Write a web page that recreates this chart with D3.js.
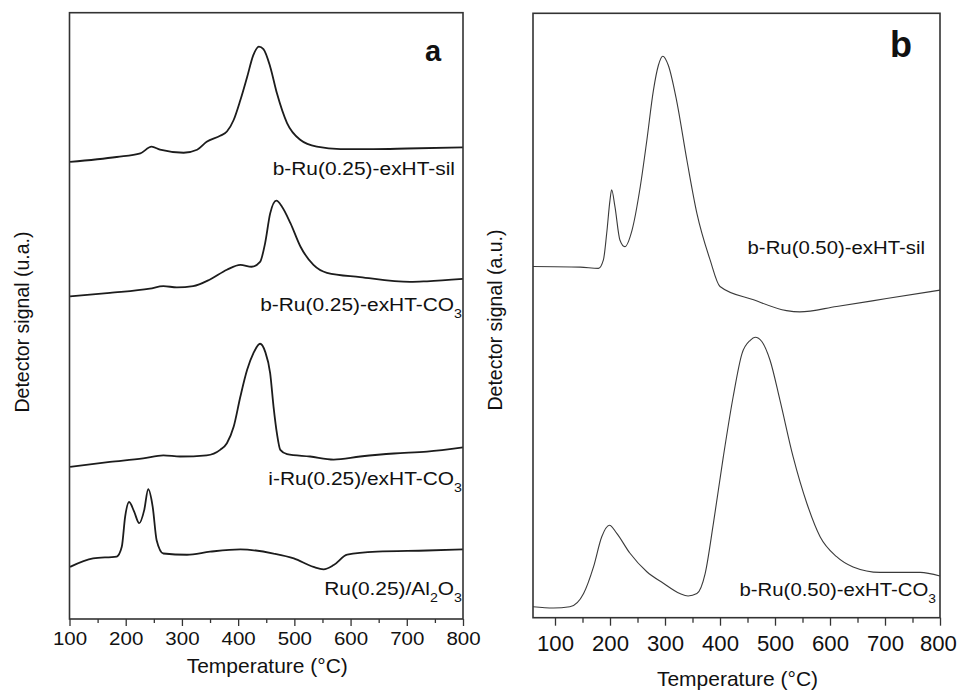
<!DOCTYPE html>
<html>
<head>
<meta charset="utf-8">
<script src="https://cdn.jsdelivr.net/npm/d3@7"></script>
<style>
  html, body { margin: 0; padding: 0; background: #fff; }
  svg { display: block; font-family: "Liberation Sans", Arial, sans-serif; }
</style>
</head>
<body>
<svg id="chart" width="958" height="690"></svg>
<script>
// ---- Panel a: TPR profiles, Ru(0.25) samples (temperature °C, signal a.u.) ----
const aSilT = [101, 184, 226, 246, 261, 303, 327, 344, 368, 380, 392, 404, 416, 427, 437, 445, 457, 469, 487, 511, 540, 582, 641, 701, 800];
const aSilV = [75.4, 76.2, 76.8, 77.9, 77.4, 76.9, 77.4, 78.7, 79.7, 80.4, 82.3, 85.6, 89.4, 93.0, 94.4, 94.0, 91.1, 86.7, 81.8, 79.0, 77.9, 77.5, 77.5, 77.6, 77.8];

const aCo3T = [101, 172, 243, 267, 291, 320, 350, 380, 404, 424, 439, 448, 457, 468, 478, 493, 511, 534, 558, 617, 706, 736, 800];
const aCo3V = [53.2, 53.8, 54.5, 54.9, 54.7, 54.9, 56.0, 57.6, 58.4, 58.1, 58.9, 62.0, 66.9, 69.0, 68.0, 65.3, 61.4, 58.4, 57.1, 56.4, 55.6, 55.7, 56.1];

const aImpT = [101, 172, 231, 267, 297, 344, 368, 380, 392, 404, 416, 427, 439, 448, 457, 463, 469, 475, 487, 528, 570, 617, 677, 736, 800];
const aImpV = [25.1, 25.9, 26.5, 27.0, 26.8, 27.0, 27.9, 29.0, 31.7, 36.7, 41.1, 43.8, 45.4, 44.1, 40.5, 35.0, 30.6, 27.9, 27.2, 26.8, 26.3, 26.8, 27.3, 27.6, 28.3];

const aAlT = [101, 142, 184, 193, 199, 206, 215, 224, 233, 240, 248, 255, 267, 309, 350, 404, 463, 499, 534, 552, 570, 594, 647, 736, 800];
const aAlV = [8.6, 10.0, 10.3, 11.9, 16.9, 19.3, 17.7, 15.8, 18.0, 21.4, 18.5, 13.0, 10.8, 10.6, 11.1, 11.5, 10.8, 10.0, 8.6, 8.2, 8.9, 10.6, 11.1, 11.3, 11.5];

// ---- Panel b: TPR profiles, Ru(0.50) samples ----
const bSilT = [60, 146, 179, 188, 194, 200, 203, 209, 218, 227, 240, 255, 267, 279, 288, 296, 306, 321, 340, 358, 382, 400, 461, 521, 545, 612, 703, 800];
const bSilV = [58.1, 58.0, 57.8, 59.2, 63.6, 69.1, 70.8, 68.0, 62.5, 61.4, 64.1, 71.3, 79.0, 87.3, 91.4, 92.9, 91.4, 85.6, 75.6, 66.9, 59.2, 54.8, 52.6, 50.8, 50.6, 51.5, 52.8, 54.2];

const bCo3T = [60, 97, 127, 152, 170, 185, 199, 212, 236, 267, 297, 327, 342, 358, 373, 388, 406, 424, 440, 455, 464, 476, 491, 509, 533, 558, 582, 612, 642, 691, 764, 800];
const bCo3V = [1.8, 1.6, 1.8, 4.0, 8.4, 13.4, 15.3, 14.0, 10.7, 7.6, 5.7, 4.0, 3.6, 4.0, 7.3, 15.6, 26.6, 36.6, 43.7, 45.9, 46.4, 45.7, 42.6, 36.0, 26.6, 18.9, 13.4, 10.1, 8.4, 7.5, 7.5, 6.9];

// Axis ticks
const majorTicks = [100, 200, 300, 400, 500, 600, 700, 800];
const minorTicks = [150, 250, 350, 450, 550, 650, 750];
const minorTicksB = [150, 250, 350, 450, 550, 650, 750];

const xTitle = "Temperature (°C)";
const yTitleA = "Detector signal (u.a.)";
const yTitleB = "Detector signal (a.u.)";

const svg = d3.select("#chart");
const zip = (T, V) => T.map((t, i) => ({ t, v: V[i] }));

function drawPanel(cfg) {
  const g = svg.append("g");
  const x = d3.scaleLinear().domain(cfg.xDomain).range([cfg.left, cfg.right]);
  const y = d3.scaleLinear().domain([0, 100]).range([cfg.bottom, cfg.top]);

  // Bottom axis: major + minor ticks, pointing outward
  const ax = g.append("g").attr("transform", `translate(0,${cfg.bottom})`)
    .call(d3.axisBottom(x).tickValues(majorTicks).tickSize(cfg.majorLen).tickPadding(cfg.tickPad).tickFormat(d3.format("d")));
  ax.select(".domain").remove();
  ax.selectAll("line").attr("stroke", "#333").attr("stroke-width", 1.3);
  ax.selectAll("text").attr("font-size", cfg.tickFont).attr("fill", "#111")
    .attr("font-family", "Liberation Sans, Arial, sans-serif")
    .attr("transform", `scale(${cfg.tickStretch},1)`);
  // keep the last label inside the page edge
  ax.selectAll("text").filter(d => d === 800).attr("dx", cfg.lastTickDx);

  const mx = g.append("g").attr("transform", `translate(0,${cfg.bottom})`)
    .call(d3.axisBottom(x).tickValues(cfg.minor).tickSize(cfg.minorLen).tickFormat(""));
  mx.select(".domain").remove();
  mx.selectAll("line").attr("stroke", "#333").attr("stroke-width", 1.3);

  // Curves
  const line = d3.line().x(d => x(d.t)).y(d => y(d.v)).curve(d3.curveMonotoneX);
  cfg.series.forEach(s => {
    g.append("path").datum(zip(s.T, s.V))
      .attr("d", line)
      .attr("fill", "none")
      .attr("stroke", cfg.lineColor)
      .attr("stroke-width", cfg.lineWidth)
      .attr("stroke-linejoin", "round");
  });

  // Frame
  g.append("rect")
    .attr("x", cfg.left).attr("y", cfg.top)
    .attr("width", cfg.right - cfg.left).attr("height", cfg.bottom - cfg.top)
    .attr("fill", "none").attr("stroke", "#333").attr("stroke-width", 1.6);

  // Series labels (right-aligned inside the frame), subscripts as shifted tspans
  cfg.series.forEach(s => {
    const t = g.append("text")
      .attr("transform", `translate(${s.lx},${s.ly}) scale(1.1,1)`)
      .attr("text-anchor", "end")
      .attr("font-size", cfg.labelFont).attr("fill", "#111");
    let shifted = 0;
    s.parts.forEach(p => {
      const want = p.sub ? 7 : 0;
      const ts = t.append("tspan").attr("dy", want - shifted).text(p.text);
      if (p.sub) ts.attr("font-size", cfg.labelFont * 0.68);
      shifted = want;
    });
  });

  // Panel letter
  g.append("text").attr("x", cfg.letterX).attr("y", cfg.letterY)
    .attr("text-anchor", "middle").attr("font-weight", "bold")
    .attr("font-size", cfg.letterFont).attr("fill", "#111").text(cfg.letter);

  // Axis titles
  g.append("text")
    .attr("transform", `translate(${(cfg.left + cfg.right) / 2 + cfg.xTitleShift},${cfg.xTitleY}) scale(1.05,1)`)
    .attr("text-anchor", "middle").attr("font-size", 20).attr("fill", "#111").text(xTitle);
  g.append("text")
    .attr("transform", `translate(${cfg.yTitleX},${cfg.yTitleY}) rotate(-90)`)
    .attr("text-anchor", "middle").attr("font-size", 19.5).attr("fill", "#111").text(cfg.yTitle);
}

drawPanel({
  xDomain: [100, 800], left: 69.5, right: 463, top: 12.7, bottom: 619,
  minor: minorTicks, majorLen: 7, minorLen: 4, tickPad: 6, tickFont: 19, tickStretch: 1.08, lastTickDx: 0,
  lineColor: "#1c1c1c", lineWidth: 1.8, labelFont: 19,
  letter: "a", letterX: 433, letterY: 61, letterFont: 29,
  xTitleShift: 1, xTitleY: 673, yTitle: yTitleA, yTitleX: 29, yTitleY: 322,
  series: [
    { T: aSilT, V: aSilV, lx: 455, ly: 175, parts: [{ text: "b-Ru(0.25)-exHT-sil" }] },
    { T: aCo3T, V: aCo3V, lx: 462, ly: 311, parts: [{ text: "b-Ru(0.25)-exHT-CO" }, { text: "3", sub: true }] },
    { T: aImpT, V: aImpV, lx: 462, ly: 485, parts: [{ text: "i-Ru(0.25)/exHT-CO" }, { text: "3", sub: true }] },
    { T: aAlT, V: aAlV, lx: 462, ly: 595, parts: [{ text: "Ru(0.25)/Al" }, { text: "2", sub: true }, { text: "O" }, { text: "3", sub: true }] }
  ]
});

drawPanel({
  xDomain: [60, 800], left: 533, right: 940, top: 13.3, bottom: 617.7,
  minor: minorTicksB, majorLen: 8, minorLen: 5, tickPad: 10, tickFont: 21.5, tickStretch: 1.03, lastTickDx: -2,
  lineColor: "#3a3a3a", lineWidth: 1.1, labelFont: 18.5,
  letter: "b", letterX: 901, letterY: 57, letterFont: 36,
  xTitleShift: 1, xTitleY: 686, yTitle: yTitleB, yTitleX: 502, yTitleY: 320,
  series: [
    { T: bSilT, V: bSilV, lx: 925, ly: 254, parts: [{ text: "b-Ru(0.50)-exHT-sil" }] },
    { T: bCo3T, V: bCo3V, lx: 936, ly: 596, parts: [{ text: "b-Ru(0.50)-exHT-CO" }, { text: "3", sub: true }] }
  ]
});
</script>
</body>
</html>
